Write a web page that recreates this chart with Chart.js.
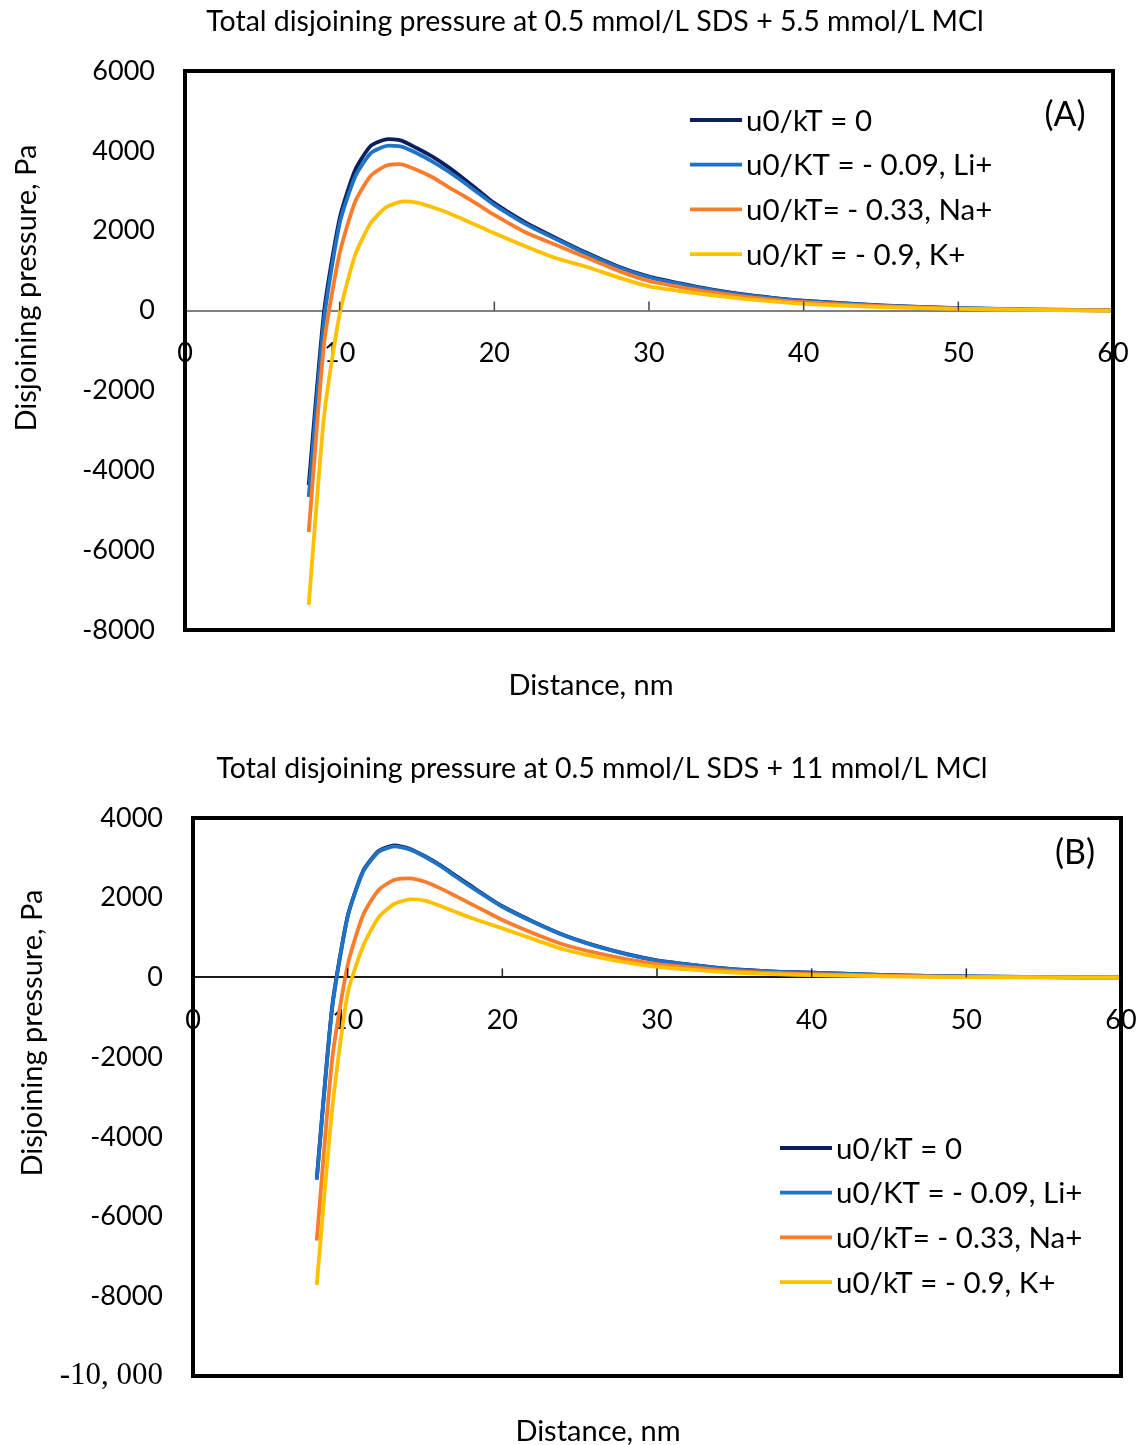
<!DOCTYPE html>
<html><head><meta charset="utf-8">
<script src="https://cdn.jsdelivr.net/npm/chart.js@4/dist/chart.umd.min.js"></script>
<style>
html,body{margin:0;padding:0;background:#fff;}
#wrap{position:relative;width:1137px;height:1445px;background:#fff;}
canvas{position:absolute;left:0;}
</style></head><body>
<div id="wrap">
<canvas id="ca" width="1137" height="720" style="top:0"></canvas>
<canvas id="cb" width="1137" height="699" style="top:746px"></canvas>
</div>
<script>
// ---------- data ----------
const distance = [8,9,10,11,12,13,14,15,16,17,18,19,20,22,24,26,28,30,32,34,36,38,40,45,50,55,60];
const seriesLabels = ['u0/kT = 0', 'u0/KT = - 0.09, Li+', 'u0/kT= - 0.33, Na+', 'u0/kT = - 0.9, K+'];
const seriesColors = ['#0b1f5e', '#1f72c6', '#fb7c2b', '#ffc000'];

// Panel A: 0.5 mmol/L SDS + 5.5 mmol/L MCl
const navyA   = [-4370,0,2311,3521,4122,4290,4255,4064,3855,3600,3310,3000,2690, 2210,1815,1440,1105,850,680,530,410,320,248, 130,60,25,5];
const blueA   = [-4670,-200,2186,3354,3939,4122,4105,3939,3729,3490,3220,2930,2645, 2170,1785,1415,1085,835,665,520,400,312,242, 125,58,24,5];
const orangeA = [-5545,-800,1435,2727,3371,3629,3663,3521,3338,3100,2880,2640,2394, 1960,1640,1320,1000,740,590,460,355,275,210, 110,50,20,5];
const yellowA = [-7370,-2615,-80,1392,2186,2587,2727,2702,2587,2450,2280,2110,1936, 1610,1310,1090,830,605,490,390,300,230,170, 85,40,15,0];

// Panel B: 0.5 mmol/L SDS + 11 mmol/L MCl
const navyB   = [-5050,-730,1540,2670,3170,3310,3230,3040,2810,2550,2290,2030,1785, 1400,1060,800,590,430,330,240,180,140,120, 60,25,10,0];
const blueB   = [-5080,-760,1523,2652,3154,3290,3214,3028,2795,2525,2265,2015,1774, 1390,1050,790,585,420,325,235,178,138,118, 58,24,10,0];
const orangeB = [-6605,-2050,311,1566,2193,2444,2486,2401,2235,2040,1840,1640,1440, 1110,820,620,460,336,260,190,140,105,85, 40,15,5,0];
const yellowB = [-7717,-3300,-400,788,1508,1842,1959,1925,1792,1640,1490,1360,1232, 960,700,520,380,268,200,145,105,75,60, 25,8,3,0];

const xTicks = [0,10,20,30,40,50,60];
const xTickLabels = ['0','10','20','30','40','50','60'];
const yTicksA = [-8000,-6000,-4000,-2000,0,2000,4000,6000];
const yTickLabelsA = ['-8000','-6000','-4000','-2000','0','2000','4000','6000'];
const yTicksB = [-10000,-8000,-6000,-4000,-2000,0,2000,4000];
const yTickLabelsB = ['-10, 000','-8000','-6000','-4000','-2000','0','2000','4000'];

const titleA = 'Total disjoining pressure at 0.5 mmol/L SDS + 5.5 mmol/L MCl';
const titleB = 'Total disjoining pressure at 0.5 mmol/L SDS + 11 mmol/L MCl';
const xTitle = 'Distance, nm';
const yTitle = 'Disjoining pressure, Pa';

// ---------- drawing ----------
const FONT = 'Lato, "Open Sans", sans-serif';

function makeDatasets(arrs) {
  return arrs.map((arr, i) => ({
    label: seriesLabels[i],
    data: distance.map((d, k) => ({x: d, y: arr[k]})),
    borderColor: seriesColors[i],
    backgroundColor: seriesColors[i],
    borderWidth: 3.8,
    pointRadius: 0,
    tension: 0.2,
    fill: false,
    order: arrs.length - i
  }));
}

const deco = {
  id: 'deco',
  afterDraw(chart, args, o) {
    const ctx = chart.ctx, a = chart.chartArea;
    const xs = chart.scales.x, ys = chart.scales.y;
    ctx.save();
    // tick marks (upward from the zero line)
    const y0 = ys.getPixelForValue(0);
    ctx.strokeStyle = o.tickColor; ctx.lineWidth = 1.5;
    xs.ticks.forEach(t => {
      if (t.value > xs.min && t.value < xs.max) {
        const px = xs.getPixelForValue(t.value);
        ctx.beginPath(); ctx.moveTo(px, y0); ctx.lineTo(px, y0 - 9); ctx.stroke();
      }
    });
    // frame
    ctx.strokeStyle = '#000'; ctx.lineWidth = 4;
    ctx.strokeRect(a.left, a.top, a.right - a.left, a.bottom - a.top);
    // titles
    ctx.fillStyle = '#000';
    ctx.textAlign = 'center'; ctx.textBaseline = 'middle';
    ctx.font = '28.5px ' + FONT;
    ctx.fillText(o.title, o.titleX, o.titleY);
    ctx.font = '29px ' + FONT;
    ctx.fillText(xTitle, o.xTitleX, o.xTitleY);
    ctx.save();
    ctx.translate(o.yTitleX, o.yTitleY); ctx.rotate(-Math.PI / 2);
    ctx.fillText(yTitle, 0, 0);
    ctx.restore();
    // panel letter
    ctx.font = '34px ' + FONT;
    ctx.fillText(o.letter, o.letterX, o.letterY);
    // legend
    ctx.font = '29.5px ' + FONT;
    ctx.textAlign = 'left';
    chart.data.datasets.forEach((ds, i) => {
      const yy = o.legY + i * o.legStep;
      ctx.strokeStyle = ds.borderColor; ctx.lineWidth = 3.8;
      ctx.beginPath(); ctx.moveTo(o.legX, yy); ctx.lineTo(o.legX + 52, yy); ctx.stroke();
      ctx.fillText(ds.label, o.legX + 56, yy + 1);
    });
    ctx.restore();
  }
};

function build(id, arrs, yMin, yMax, yTicks, yTickLabels, leftW, rightPad, topPad, botPad, axisColor, opts) {
  return new Chart(document.getElementById(id), {
    type: 'line',
    data: { datasets: makeDatasets(arrs) },
    plugins: [deco],
    options: {
      responsive: false, animation: false, devicePixelRatio: 1,
      layout: { padding: { left: 0, right: rightPad, top: topPad, bottom: botPad } },
      plugins: {
        legend: { display: false }, title: { display: false }, tooltip: { enabled: false },
        deco: opts
      },
      scales: {
        x: {
          type: 'linear', min: 0, max: 60,
          position: { y: 0 },
          afterFit: (s) => { s.paddingLeft = 0; s.paddingRight = 0; },
          afterBuildTicks: (s) => { s.ticks = xTicks.map(v => ({ value: v })); },
          grid: { display: false, drawTicks: false },
          border: { display: true, color: axisColor, width: 2 },
          ticks: {
            padding: 27, color: '#000',
            font: { family: FONT, size: 27 },
            maxRotation: 0, autoSkip: false,
            callback: (v) => { const i = xTicks.indexOf(v); return i >= 0 ? xTickLabels[i] : ''; }
          }
        },
        y: {
          type: 'linear', min: yMin, max: yMax,
          afterFit: (s) => { s.width = leftW; },
          afterBuildTicks: (s) => { s.ticks = yTicks.map(v => ({ value: v })); },
          grid: { display: false, drawTicks: false },
          border: { display: false },
          ticks: {
            padding: 30, color: '#000',
            font: (c) => (c.tick && c.tick.value === -10000)
              ? { family: '"Liberation Serif", "DejaVu Serif", serif', size: 31 }
              : { family: FONT, size: 27 },
            callback: (v) => { const i = yTicks.indexOf(v); return i >= 0 ? yTickLabels[i] : ''; }
          }
        }
      }
    }
  });
}

build('ca', [navyA, blueA, orangeA, yellowA], -8000, 6000, yTicksA, yTickLabelsA,
  185, 1137 - 1113, 71, 720 - 630, '#808080',
  { title: titleA, titleX: 595, titleY: 22, xTitleX: 591, xTitleY: 686, yTitleX: 27, yTitleY: 288,
    letter: '(A)', letterX: 1065, letterY: 115, legX: 690, legY: 120, legStep: 44.7, tickColor: '#444' });

build('cb', [navyB, blueB, orangeB, yellowB], -10000, 4000, yTicksB, yTickLabelsB,
  193, 1137 - 1121, 72, 699 - 630, '#1a1a1a',
  { title: titleB, titleX: 602, titleY: 23, xTitleX: 598, xTitleY: 686, yTitleX: 33, yTitleY: 287,
    letter: '(B)', letterX: 1075, letterY: 107, legX: 780, legY: 402, legStep: 44.7, tickColor: '#222' });
</script>
</body></html>
